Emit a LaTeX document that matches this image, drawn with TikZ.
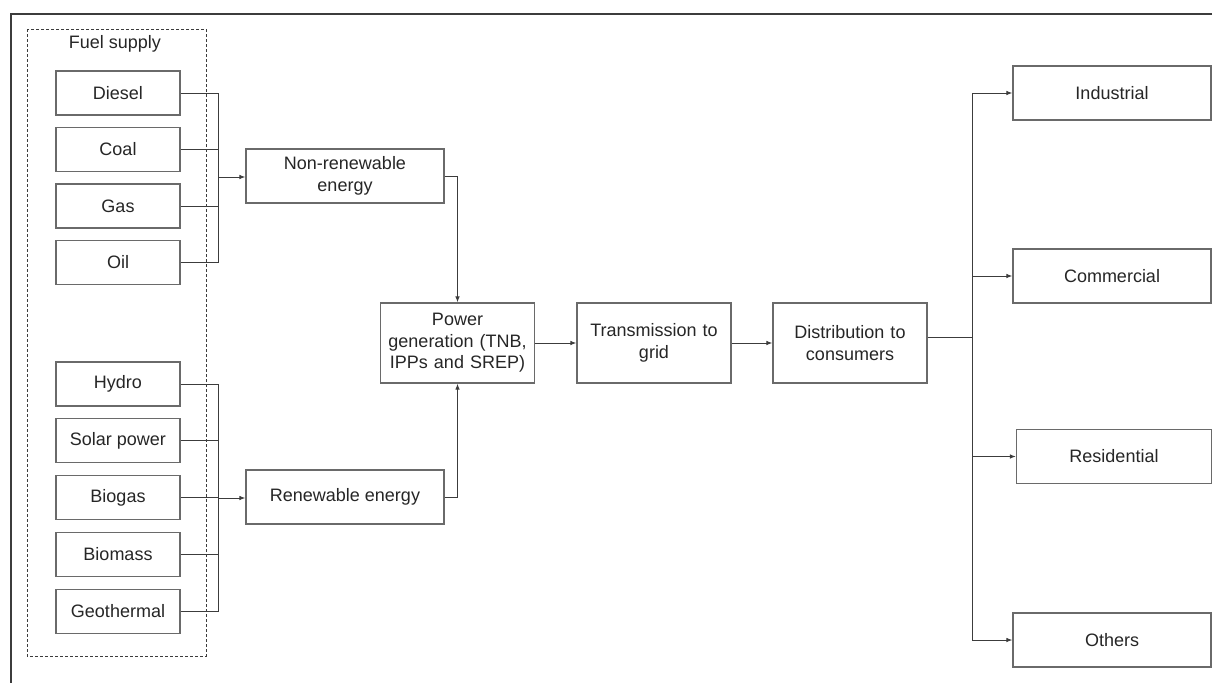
\documentclass[tikz,border=0pt]{standalone}
\usepackage{fontspec}
\setmainfont{Liberation Sans}
\usetikzlibrary{arrows.meta}
\definecolor{boxline}{HTML}{6A6A6A}
\definecolor{wire}{HTML}{3C3C3C}
\definecolor{ink}{HTML}{262626}
\begin{document}
\begin{tikzpicture}[x=1pt,y=-1pt,
  box/.style={draw=boxline, line width=1.2pt, fill=white, text=ink,
    align=center, inner sep=2pt,
    font=\fontsize{18}{21.5}\selectfont},
  srcbox/.style={box, minimum width=124pt, minimum height=44pt},
  midbox/.style={box, minimum width=198pt, minimum height=54pt},
  stagebox/.style={box, minimum width=154pt, minimum height=80pt, text width=148pt},
  endbox/.style={box, minimum width=198pt, minimum height=54pt},
  wire/.style={draw=wire, line width=0.9pt},
  arr/.style={wire, -{Latex[length=6pt,width=4.5pt]}}]
\useasboundingbox (0,0) rectangle (1213,683);

% outer frame
\draw[draw=wire, line width=1.2pt] (1212,14) -- (11,14) -- (11,683);

% fuel supply group
\draw[draw=wire, line width=0.8pt, dash pattern=on 3pt off 2pt] (27,29) rectangle (206,656);
\node[text=ink, font=\fontsize{18}{21.5}\selectfont] (fuel) at (115,44) {Fuel supply};

% junction points of the two collector buses
\coordinate (nbus) at (218,177);
\coordinate (rbus) at (218,498);
\coordinate (dbus) at (972,337);

% fuel sources
\node[srcbox] (diesel) at (118,93) {Diesel};
\node[srcbox] (coal) at (118,149.5) {Coal};
\node[srcbox] (gas) at (118,206) {Gas};
\node[srcbox] (oil) at (118,262.5) {Oil};
\node[srcbox] (hydro) at (118,384) {Hydro};
\node[srcbox] (solar) at (118,440.5) {Solar power};
\node[srcbox] (biogas) at (118,497.5) {Biogas};
\node[srcbox] (biomass) at (118,554.5) {Biomass};
\node[srcbox] (geo) at (118,611.5) {Geothermal};

% energy categories
\node[midbox] (nonren) at (345,176) {Non-renewable\\energy};
\node[midbox] (ren) at (345,497) {Renewable energy};

% main chain
\node[stagebox] (power) at (457.5,343) {Power\\generation (TNB,\\IPPs and SREP)};
\node[stagebox] (trans) at (654,343) {Transmission to\\grid};
\node[stagebox] (dist) at (850,343) {Distribution to\\consumers};

% consumer sectors
\node[endbox] (ind) at (1112,93) {Industrial};
\node[endbox] (com) at (1112,276) {Commercial};
\node[endbox, minimum width=195pt] (res) at (1114,456.5) {Residential};
\node[endbox] (oth) at (1112,640) {Others};

% non-renewable collector
\foreach \s in {diesel,coal,gas,oil}
  \draw[wire] (\s.east) -| (nbus);
\draw[arr] (nbus) -- (nbus -| nonren.west);

% renewable collector
\foreach \s in {hydro,solar,biogas,biomass,geo}
  \draw[wire] (\s.east) -| (rbus);
\draw[arr] (rbus) -- (rbus -| ren.west);

% into power generation
\draw[arr] (nonren.east) -| (power.north);
\draw[arr] (ren.east) -| (power.south);

% along the chain
\draw[arr] (power) -- (trans);
\draw[arr] (trans) -- (dist);

% distribution bus
\draw[wire] (dist.east |- dbus) -- (dbus);
\foreach \t in {ind,com,res,oth}
  \draw[arr] (dbus) |- (\t.west);
\end{tikzpicture}
\end{document}
